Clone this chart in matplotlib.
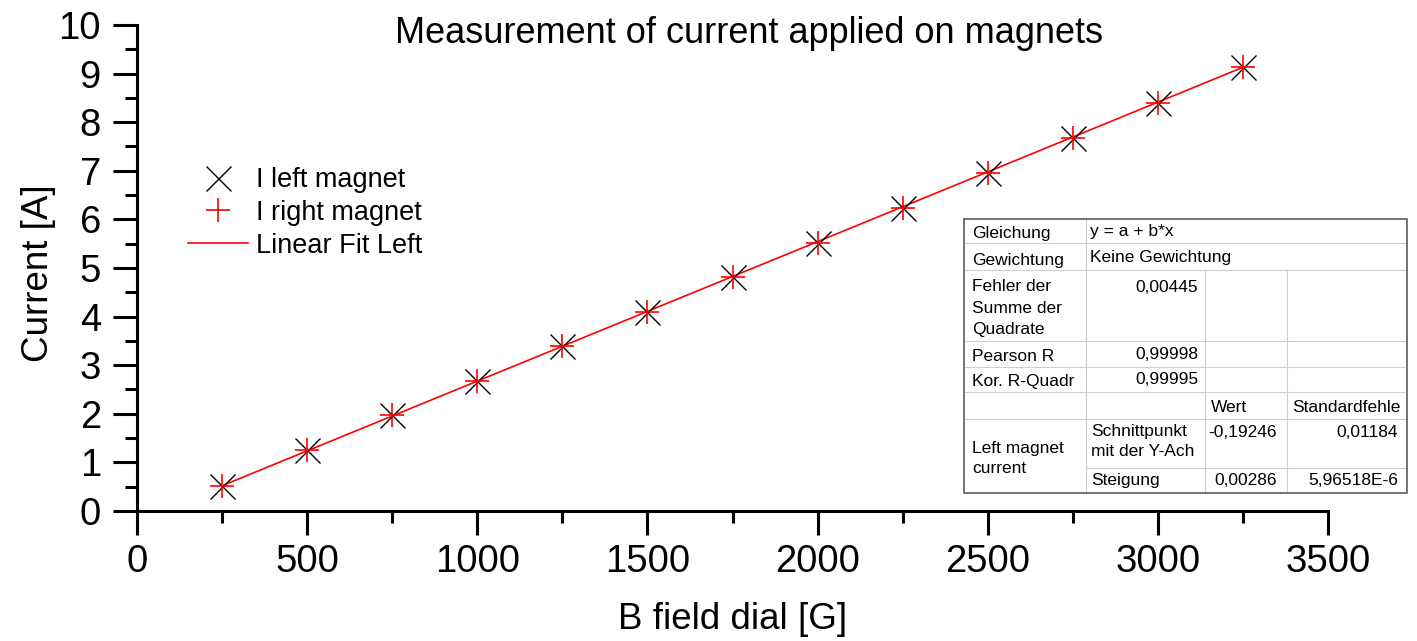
import matplotlib
matplotlib.use("Agg")
import matplotlib.pyplot as plt
from matplotlib.ticker import MultipleLocator
from matplotlib.transforms import Bbox, TransformedBbox

# data
b_field = [250, 500, 750, 1000, 1250, 1500, 1750, 2000, 2250, 2500, 2750, 3000, 3250]
i_left = [0.52, 1.26, 1.97, 2.68, 3.40, 4.10, 4.81, 5.52, 6.24, 6.95, 7.67, 8.40, 9.14]
i_right = [0.52, 1.26, 1.97, 2.68, 3.40, 4.10, 4.81, 5.52, 6.24, 6.95, 7.67, 8.40, 9.14]
fit_x = [250, 3250]
fit_y = [0.52, 9.13]

x_ticks = [0, 500, 1000, 1500, 2000, 2500, 3000, 3500]
y_ticks = [0, 1, 2, 3, 4, 5, 6, 7, 8, 9, 10]

plt.rcParams['font.family'] = ['Liberation Sans', 'DejaVu Sans']

W, H = 1417, 641
fig = plt.figure(figsize=(W / 100, H / 100), dpi=100)
ax = fig.add_axes([137 / W, 1 - 511 / H, (1328 - 137) / W, (511 - 25) / H])

ax.plot(b_field, i_left, "x", color="black", ms=18, mew=1.0, label="I left magnet", zorder=3)
ax.plot(b_field, i_right, "+", color="red", ms=17, mew=1.2, label="I right magnet", zorder=4)
ax.plot(fit_x, fit_y, "-", color="red", lw=1.2, label="Linear Fit Left", zorder=2)

ax.set_xlim(0, 3500)
ax.set_ylim(0, 10)
ax.set_xticks(x_ticks)
ax.set_yticks(y_ticks)
ax.xaxis.set_minor_locator(MultipleLocator(250))
ax.yaxis.set_minor_locator(MultipleLocator(0.5))
for s in ["top", "right"]:
    ax.spines[s].set_visible(False)
for s in ["left", "bottom"]:
    ax.spines[s].set_linewidth(2.2)
ax.tick_params(which="major", direction="out", length=17, width=2.2, labelsize=27.5, pad=7)
ax.tick_params(which="minor", direction="out", length=8.5, width=2.2)
ax.tick_params(axis="y", pad=9)

ax.set_xlabel("B field dial [G]", fontsize=26.5)
ax.set_ylabel("Current [A]", fontsize=26.5)
ax.xaxis.set_label_coords(0.5, -0.187)
ax.yaxis.set_label_coords(-0.068, 0.49)

fig.text(749 / W, 1 - 43 / H, "Measurement of current applied on magnets",
         ha="center", va="baseline", fontsize=26)

ax.legend(loc="upper left", bbox_to_anchor=(188 / W, 1 - 167 / H), bbox_transform=fig.transFigure,
          frameon=False, fontsize=19.5, borderpad=0, borderaxespad=0, handlelength=2.2,
          handletextpad=0.3, labelspacing=0.25)

# parameter table drawn in pixel coordinates on an overlay
ov = fig.add_axes([0, 0, 1, 1])
ov.set_xlim(0, W)
ov.set_ylim(H, 0)
ov.axis("off")
ov.patch.set_visible(False)

L, R, T, B = 964, 1407, 219, 493
c1, c2, c3 = 1086, 1205, 1287
rows = [243, 270, 341, 367, 392, 419, 468]
grid = "#cfcfcf"

ov.fill([L, R, R, L], [T, T, B, B], color="white", zorder=1)
for y in rows:
    x0 = c1 if y == 468 else L
    ov.plot([x0, R], [y, y], color=grid, lw=0.8, zorder=2)
ov.plot([c1, c1], [T, B], color=grid, lw=0.8, zorder=2)
ov.plot([c2, c2], [270, B], color=grid, lw=0.8, zorder=2)
ov.plot([c3, c3], [270, B], color=grid, lw=0.8, zorder=2)
ov.plot([L, R, R, L, L], [T, T, B, B, T], color="#6a6a6a", lw=1.3, zorder=3)

fs = 12.5
cells = [
    (972, 238, "Gleichung", "left"),
    (1090, 236, "y = a + b*x", "left"),
    (972, 265, "Gewichtung", "left"),
    (1090, 262, "Keine Gewichtung", "left"),
    (1198, 292, "0,00445", "right"),
    (972, 361, "Pearson R", "left"),
    (1198, 359, "0,99998", "right"),
    (972, 386, "Kor. R-Quadr", "left"),
    (1198, 384, "0,99995", "right"),
    (1211, 412, "Wert", "left"),
    (1292, 412, "Standardfehle", "left"),
    (1277, 437, "-0,19246", "right"),
    (1398, 437, "0,01184", "right"),
    (1091, 485, "Steigung", "left"),
    (1277, 485, "0,00286", "right"),
    (1398, 485, "5,96518E-6", "right"),
]
for x, y, s, ha in cells:
    ov.text(x, y, s, ha=ha, va="baseline", fontsize=fs, zorder=4)

# multi-line cells, anchored at their top
ov.text(972, 279, "Fehler der\nSumme der\nQuadrate", ha="left", va="top",
        fontsize=fs, linespacing=1.55, zorder=4)
ov.text(972, 441, "Left magnet\ncurrent", ha="left", va="top",
        fontsize=fs, linespacing=1.4, zorder=4)
t = ov.text(1091, 424, "Schnittpunkt\nmit der Y-Ach\nse", ha="left", va="top",
            fontsize=fs, linespacing=1.45, zorder=4)
cell_box = Bbox.from_extents(c1 / W, 1 - 467 / H, c2 / W, 1 - 419 / H)
t.set_clip_box(TransformedBbox(cell_box, fig.transFigure))
t.set_clip_on(True)

fig.savefig("out.png", dpi=100)
